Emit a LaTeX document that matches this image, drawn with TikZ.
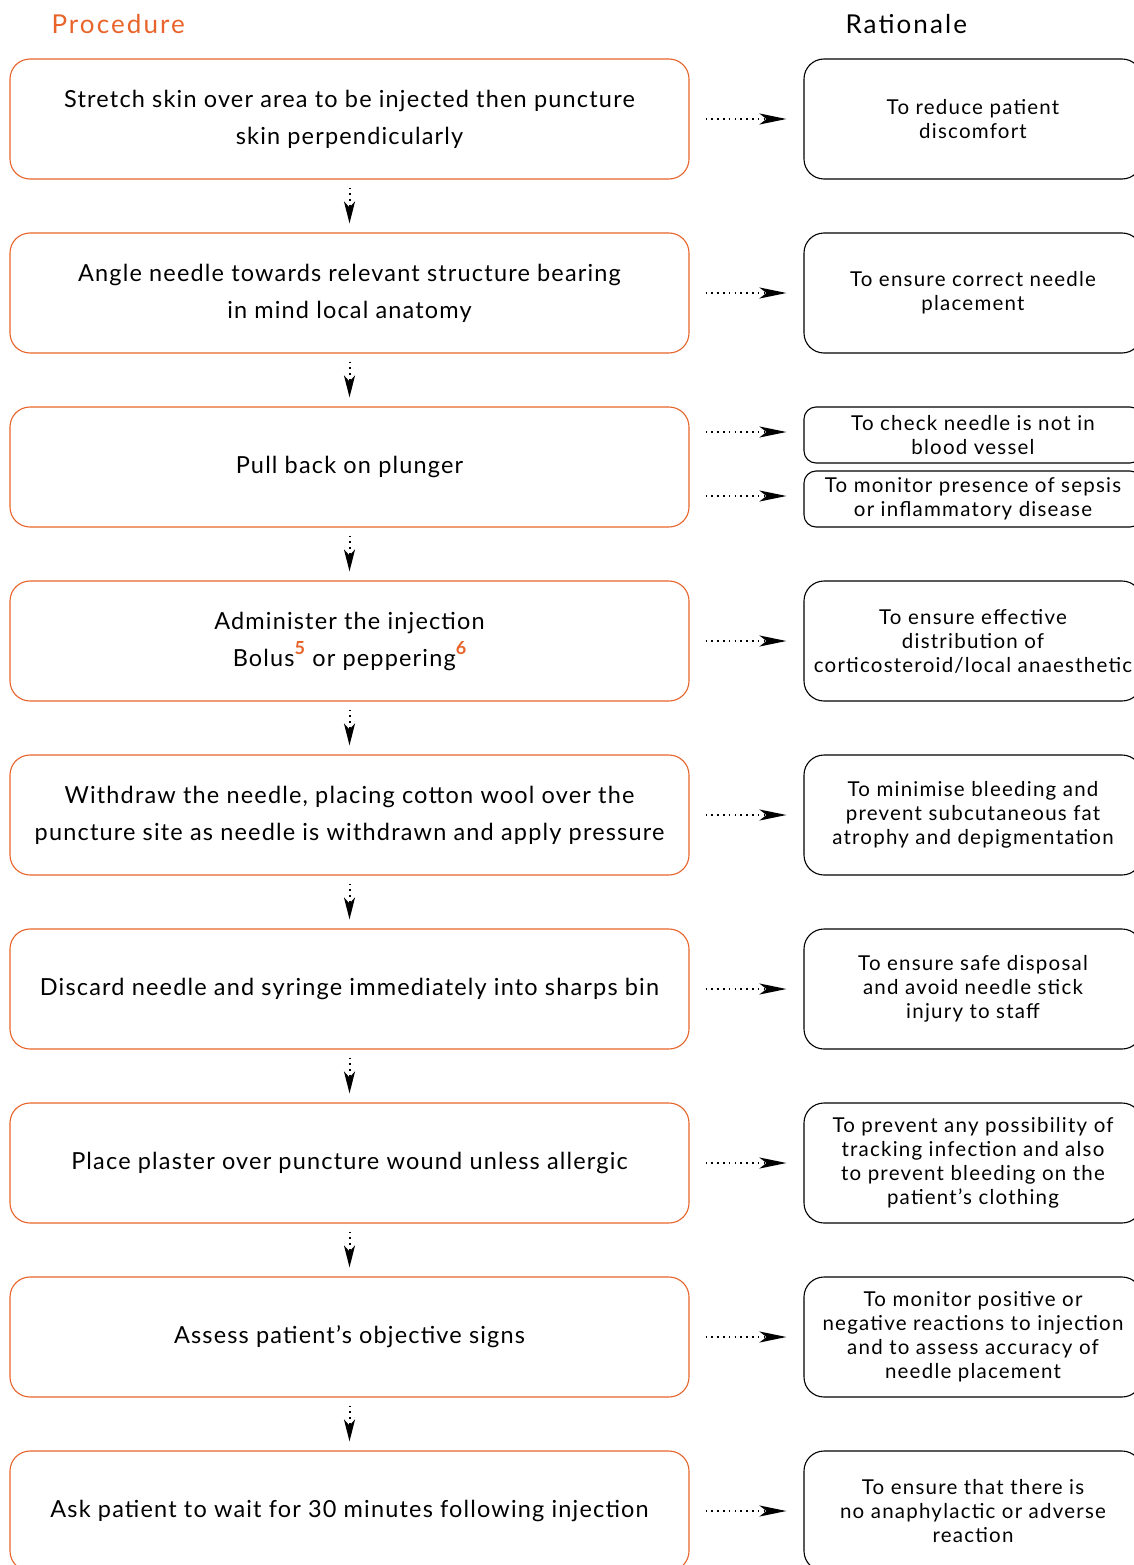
\documentclass[tikz,border=0pt]{standalone}
\usepackage{fontspec}
\setmainfont{Lato}[LetterSpace=5]
\newfontfamily\spacedfont[LetterSpace=8]{Lato}
\newfontfamily\supfont{Lato}
\usetikzlibrary{arrows.meta}
\definecolor{procorange}{RGB}{232,100,42}
\tikzset{
  procbox/.style={draw=procorange, line width=1.1pt, rounded corners=20pt, minimum width=679pt, minimum height=120pt, align=center, font=\fontsize{23.5}{37}\selectfont, inner sep=0pt},
  ratbox/.style={draw=black, line width=1.1pt, rounded corners=20pt, minimum width=338pt, minimum height=120pt, align=center, font=\fontsize{20.5}{24}\selectfont\addfontfeatures{LetterSpace=6}, inner sep=0pt},
  ratsmall/.style={ratbox, minimum height=56pt, rounded corners=12pt},
  dotarrow/.style={line width=2pt, dash pattern=on 1.6pt off 4.2pt, -{Stealth[length=27pt,width=11pt,inset=7pt]}},
  vdotarrow/.style={line width=2pt, dash pattern=on 1.6pt off 4.2pt, -{Stealth[length=22pt,width=11pt,inset=6pt]}},
  hdr/.style={font=\fontsize{26}{30}\selectfont\spacedfont}
}
\newcommand{\orsup}[1]{\raisebox{0.5em}{\supfont\fontsize{18}{18}\selectfont\bfseries\color{procorange}#1}}
\begin{document}
\begin{tikzpicture}[x=1pt,y=-1pt]
\useasboundingbox (0,0) rectangle (1134,1565);
\clip (0,0) rectangle (1134,1565);
\fill[white] (0,0) rectangle (1134,1565);
\node[hdr, text=procorange, anchor=west] (hp) at (48,24) {Procedure};
\node[hdr, anchor=west] (hr) at (842,24) {Rationale};

\node[procbox] (L1) at (349.5,119) {Stretch skin over area to be injected then puncture\\skin perpendicularly};
\node[procbox] (L2) at (349.5,293) {Angle needle towards relevant structure bearing\\in mind local anatomy};
\node[procbox] (L3) at (349.5,467) {Pull back on plunger};
\node[procbox] (L4) at (349.5,641) {Administer the injection\\Bolus\orsup{5} or peppering\orsup{6}};
\node[procbox] (L5) at (349.5,815) {Withdraw the needle, placing cotton wool over the\\puncture site as needle is withdrawn and apply pressure};
\node[procbox] (L6) at (349.5,989) {Discard needle and syringe immediately into sharps bin};
\node[procbox] (L7) at (349.5,1163) {Place plaster over puncture wound unless allergic};
\node[procbox] (L8) at (349.5,1337) {Assess patient’s objective signs};
\node[procbox] (L9) at (349.5,1511) {Ask patient to wait for 30 minutes following injection};

\node[ratbox] (R1) at (973,119) {To reduce patient\\discomfort};
\node[ratbox] (R2) at (973,293) {To ensure correct needle\\placement};
\node[ratsmall] (R3a) at (973,435) {To check needle is not in\\blood vessel};
\node[ratsmall] (R3b) at (973,499) {To monitor presence of sepsis\\or inflammatory disease};
\node[ratbox] (R4) at (973,641) {To ensure effective\\distribution of\\corticosteroid/local anaesthetic};
\node[ratbox] (R5) at (973,815) {To minimise bleeding and\\prevent subcutaneous fat\\atrophy and depigmentation};
\node[ratbox] (R6) at (973,989) {To ensure safe disposal\\and avoid needle stick\\injury to staff};
\node[ratbox] (R7) at (973,1163) {To prevent any possibility of\\tracking infection and also\\to prevent bleeding on the\\patient’s clothing};
\node[ratbox] (R8) at (973,1337) {To monitor positive or\\negative reactions to injection\\and to assess accuracy of\\needle placement};
\node[ratbox] (R9) at (973,1511) {To ensure that there is\\no anaphylactic or adverse\\reaction};

\foreach \a/\b in {L1/L2,L2/L3,L3/L4,L4/L5,L5/L6,L6/L7,L7/L8,L8/L9}
  \draw[vdotarrow, shorten <=8pt, shorten >=9pt] (\a.south) -- (\b.north);
\foreach \a/\b in {L1/R1,L2/R2,L4/R4,L5/R5,L6/R6,L7/R7,L8/R8,L9/R9}
  \draw[dotarrow, shorten <=16pt, shorten >=17pt] (\a.east) -- (\b.west);
\coordinate (c3a) at ([yshift=3pt]R3a.west);
\coordinate (c3b) at ([yshift=3pt]R3b.west);
\draw[dotarrow, shorten <=16pt, shorten >=17pt] (L3.east |- c3a) -- (c3a);
\draw[dotarrow, shorten <=16pt, shorten >=17pt] (L3.east |- c3b) -- (c3b);
\end{tikzpicture}
\end{document}
